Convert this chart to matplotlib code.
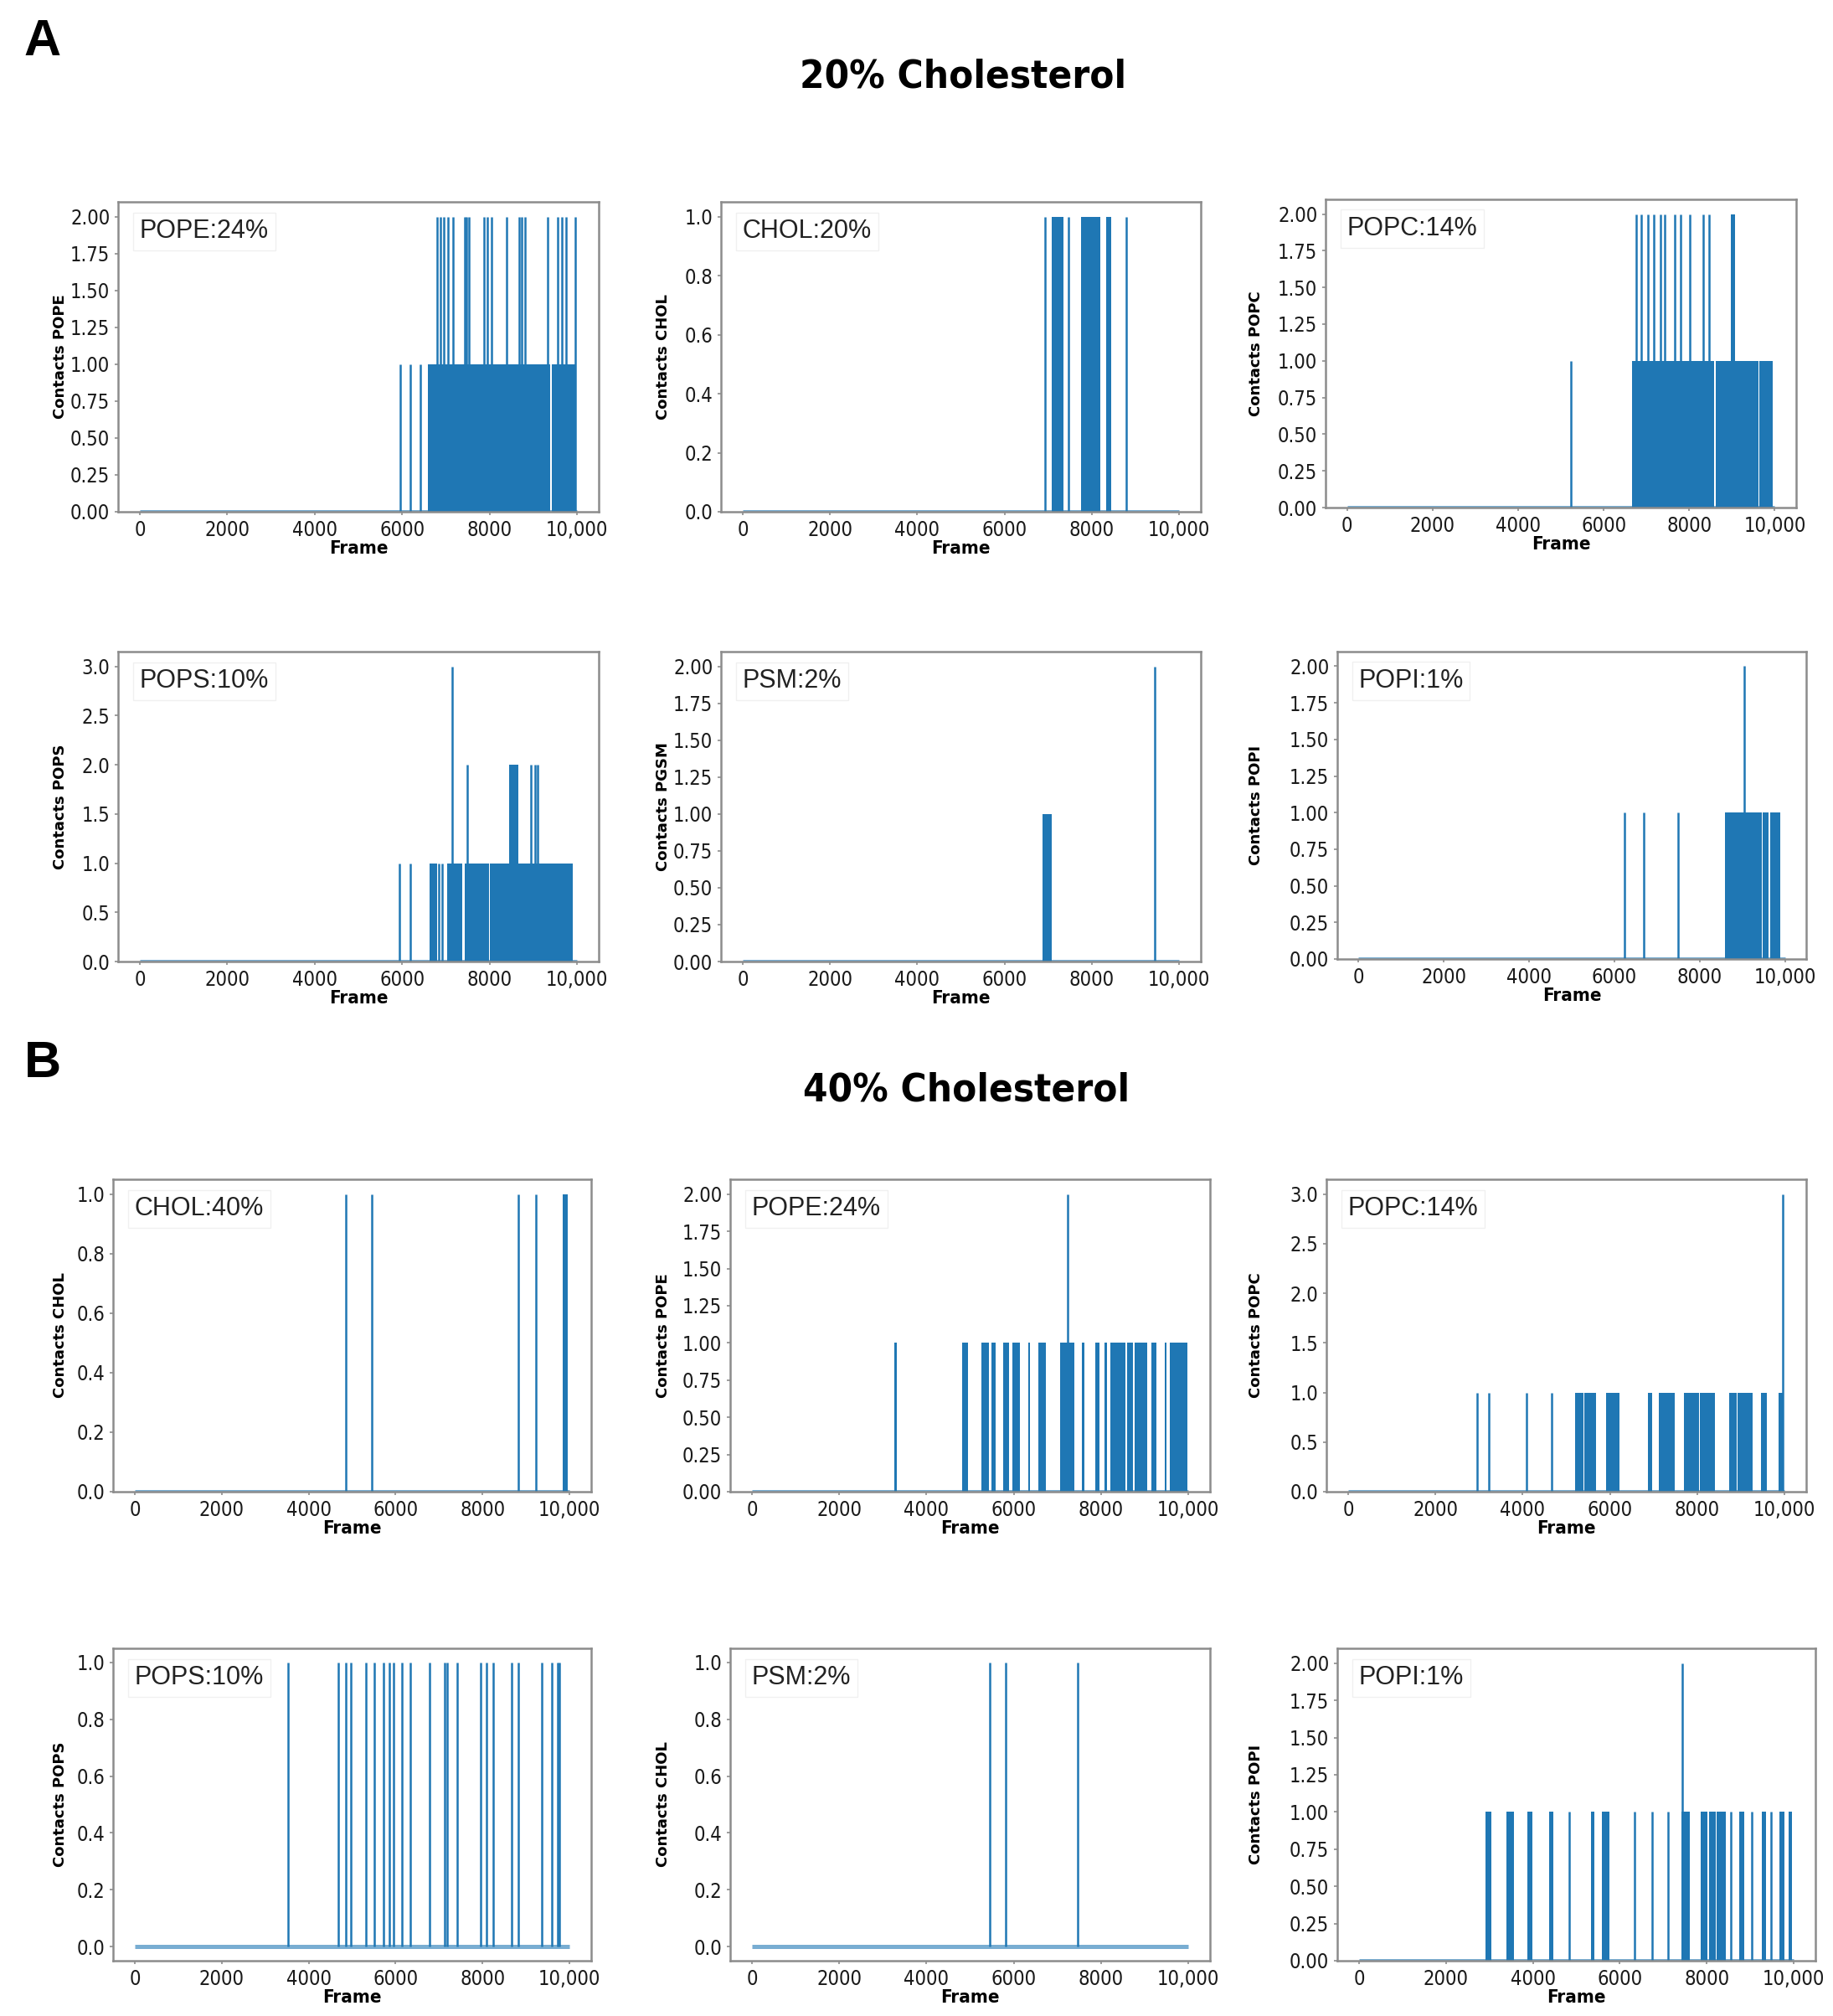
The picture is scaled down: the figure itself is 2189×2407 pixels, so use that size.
import matplotlib
matplotlib.use("Agg")
import matplotlib.pyplot as plt
import matplotlib.transforms as mtransforms
from matplotlib.ticker import MaxNLocator
from matplotlib import font_manager

# Figure size in pixels (dpi 100)
W, H = 2189, 2407

BLUE = "#1f77b4"
SPINE = "#8c8c8c"

FRAME_TICKS = [0, 2000, 4000, 6000, 8000, 10000]
FRAME_TICK_LABELS = ["0", "2000", "4000", "6000", "8000", "10,000"]

# ---- Data: 20% cholesterol -------------------------------------------------
# spikes: (frame, contacts); blocks: (start frame, end frame, contacts)
A_POPE_SPIKES = [(5950, 1), (6180, 1), (6410, 1),
                 (6800, 2), (6870, 2), (6960, 2), (7055, 2), (7165, 2),
                 (7430, 2), (7475, 2), (7525, 2), (7865, 2), (7945, 2),
                 (8050, 2), (8385, 2), (8685, 2), (8735, 2), (8815, 2),
                 (9340, 2), (9555, 2), (9650, 2), (9745, 2), (9960, 2)]
A_POPE_BLOCKS = [(6590, 9395, 1), (9425, 9980, 1)]

A_CHOL_SPIKES = [(6930, 1), (7470, 1), (8785, 1)]
A_CHOL_BLOCKS = [(7090, 7355, 1), (7750, 8200, 1), (8325, 8440, 1)]

A_POPC_SPIKES = [(5235, 1), (6765, 2), (6870, 2), (7045, 2), (7165, 2),
                 (7335, 2), (7430, 2), (7670, 2), (7790, 2), (8015, 2),
                 (8335, 2), (8470, 2)]
A_POPC_BLOCKS = [(6660, 8590, 1), (8615, 9615, 1), (9640, 9960, 1),
                 (8975, 9080, 2)]

A_POPS_SPIKES = [(5935, 1), (6190, 1), (6845, 1), (6925, 1),
                 (7150, 3), (7490, 2), (8955, 2), (9045, 2), (9095, 2)]
A_POPS_BLOCKS = [(6620, 6795, 1), (7025, 7380, 1), (7425, 7980, 1),
                 (8000, 9900, 1), (8440, 8660, 2)]

A_PSM_SPIKES = [(9450, 2)]
A_PSM_BLOCKS = [(6880, 7085, 1)]

A_POPI_SPIKES = [(6245, 1), (6685, 1), (7490, 1), (9045, 2)]
A_POPI_BLOCKS = [(8590, 9450, 1), (9480, 9620, 1), (9660, 9890, 1)]

# ---- Data: 40% cholesterol -------------------------------------------------
B_CHOL_SPIKES = [(4865, 1), (5460, 1), (8820, 1), (9230, 1)]
B_CHOL_BLOCKS = [(9850, 9970, 1)]

B_POPE_SPIKES = [(7240, 2)]
B_POPE_BLOCKS = [(3265, 3315, 1), (4815, 4945, 1), (5260, 5440, 1),
                 (5480, 5595, 1), (5760, 5900, 1), (5970, 6145, 1),
                 (6325, 6375, 1), (6570, 6730, 1), (7055, 7385, 1),
                 (7565, 7615, 1), (7870, 7965, 1), (8075, 8130, 1),
                 (8220, 8560, 1), (8600, 8730, 1), (8780, 9060, 1),
                 (9160, 9280, 1), (9455, 9510, 1), (9580, 9980, 1)]

B_POPC_SPIKES = [(2960, 1), (3225, 1), (4095, 1), (4665, 1), (9965, 3)]
B_POPC_BLOCKS = [(5200, 5400, 1), (5420, 5690, 1), (5920, 6210, 1),
                 (6880, 6975, 1), (7120, 7485, 1), (7695, 8040, 1),
                 (8070, 8410, 1), (8725, 8900, 1), (8930, 9270, 1),
                 (9460, 9605, 1), (9860, 9990, 1)]

B_POPS_SPIKES = [(3530, 1), (4690, 1), (4850, 1), (4975, 1), (5325, 1),
                 (5510, 1), (5715, 1), (5850, 1), (5945, 1), (6145, 1),
                 (6335, 1), (6780, 1), (7130, 1), (7185, 1), (7425, 1),
                 (7965, 1), (8100, 1), (8250, 1), (8665, 1), (8825, 1),
                 (9355, 1), (9595, 1), (9730, 1), (9770, 1)]
B_POPS_BLOCKS = []

B_PSM_SPIKES = [(5455, 1), (5825, 1), (7475, 1)]
B_PSM_BLOCKS = []

B_POPI_SPIKES = [(4840, 1), (6345, 1), (6750, 1), (7105, 1), (8560, 1),
                 (9045, 1), (9480, 1), (7445, 2)]
B_POPI_BLOCKS = [(2915, 3040, 1), (3400, 3560, 1), (3865, 3980, 1),
                 (4370, 4465, 1), (5340, 5405, 1), (5585, 5760, 1),
                 (7410, 7605, 1), (7865, 8020, 1), (8050, 8200, 1),
                 (8230, 8430, 1), (8755, 8865, 1), (9270, 9355, 1),
                 (9675, 9790, 1), (9885, 9970, 1)]

# ---- Panel layout (figure pixels): left, top, right, bottom ----------------
PANELS = [
    ("POPE:24%", "Contacts POPE", A_POPE_SPIKES, A_POPE_BLOCKS, (141, 241, 715, 611)),
    ("CHOL:20%", "Contacts CHOL", A_CHOL_SPIKES, A_CHOL_BLOCKS, (861, 241, 1434, 611)),
    ("POPC:14%", "Contacts POPC", A_POPC_SPIKES, A_POPC_BLOCKS, (1583, 238, 2145, 606)),
    ("POPS:10%", "Contacts POPS", A_POPS_SPIKES, A_POPS_BLOCKS, (141, 778, 715, 1148)),
    ("PSM:2%", "Contacts PGSM", A_PSM_SPIKES, A_PSM_BLOCKS, (861, 778, 1434, 1148)),
    ("POPI:1%", "Contacts POPI", A_POPI_SPIKES, A_POPI_BLOCKS, (1597, 778, 2157, 1145)),
    ("CHOL:40%", "Contacts CHOL", B_CHOL_SPIKES, B_CHOL_BLOCKS, (135, 1408, 706, 1781)),
    ("POPE:24%", "Contacts POPE", B_POPE_SPIKES, B_POPE_BLOCKS, (872, 1408, 1445, 1781)),
    ("POPC:14%", "Contacts POPC", B_POPC_SPIKES, B_POPC_BLOCKS, (1584, 1408, 2157, 1781)),
    ("POPS:10%", "Contacts POPS", B_POPS_SPIKES, B_POPS_BLOCKS, (135, 1968, 706, 2341)),
    ("PSM:2%", "Contacts CHOL", B_PSM_SPIKES, B_PSM_BLOCKS, (872, 1968, 1445, 2341)),
    ("POPI:1%", "Contacts POPI", B_POPI_SPIKES, B_POPI_BLOCKS, (1597, 1968, 2168, 2341)),
]


def narrow_font(weight="normal", size=15):
    """Condensed face if the system has one, else plain DejaVu Sans."""
    fp = font_manager.FontProperties(family="DejaVu Sans", stretch="condensed",
                                     weight=weight, size=size)
    path = font_manager.findfont(fp)
    if "Condensed" in path:
        return font_manager.FontProperties(fname=path, size=size)
    return font_manager.FontProperties(family="DejaVu Sans", weight=weight, size=size)


def ylabel_x(left):
    # y label sits at a fixed distance from each column's frame
    if left < 400:
        return 72
    if left < 1200:
        return 792
    return 1500


def draw_panel(fig, label, ylabel, spikes, blocks, box):
    left, top, right, bottom = box
    ax = fig.add_axes([left / W, 1 - bottom / H, (right - left) / W, (bottom - top) / H])

    # baseline of zero contacts
    ax.plot([0, 10000], [0, 0], color=BLUE, alpha=0.6, lw=3.6, solid_capstyle="butt")

    # dense stretches of contacts
    for start, end, val in blocks:
        ax.bar(start, val, width=end - start, align="edge", color=BLUE, linewidth=0)

    # isolated contact events
    if spikes:
        xs = [s[0] for s in spikes]
        ys = [s[1] for s in spikes]
        ax.vlines(xs, 0, ys, color=BLUE, lw=1.8)

    ax.margins(x=0.05, y=0.05)
    ax.set_xticks(FRAME_TICKS)
    ax.set_xticklabels(FRAME_TICK_LABELS)
    ax.yaxis.set_major_locator(MaxNLocator(nbins=9, steps=[1, 2, 2.5, 5, 10]))

    for sp in ax.spines.values():
        sp.set_color(SPINE)
        sp.set_linewidth(1.8)
    ax.tick_params(axis="both", direction="out", length=3, width=1.2,
                   color=SPINE, labelcolor="#1a1a1a", pad=4)
    tick_fp = narrow_font(size=17)
    for t in ax.get_xticklabels() + ax.get_yticklabels():
        t.set_fontproperties(tick_fp)

    ax.set_xlabel("Frame", fontproperties=narrow_font("bold", 16))
    ax.xaxis.label.set_va("center")
    ax.xaxis.set_label_coords(
        0.5, 1 - (bottom + 44) / H,
        transform=mtransforms.blended_transform_factory(ax.transAxes, fig.transFigure))

    ax.set_ylabel(ylabel, family="DejaVu Sans", fontweight="bold", fontsize=13)
    ax.yaxis.label.set_va("center")
    ax.yaxis.set_label_coords(
        ylabel_x(left) / W, 0.5,
        transform=mtransforms.blended_transform_factory(fig.transFigure, ax.transAxes))

    ax.text(0.045, 0.905, label, transform=ax.transAxes, family=["Liberation Sans", "DejaVu Sans"],
            fontsize=22, color="#222222", ha="left", va="center",
            bbox=dict(boxstyle="square,pad=0.25", facecolor="white",
                      edgecolor="#f0f0f0", linewidth=1.0))
    return ax


def main():
    fig = plt.figure(figsize=(W / 100, H / 100), dpi=100)

    for label, ylabel, spikes, blocks, box in PANELS:
        draw_panel(fig, label, ylabel, spikes, blocks, box)

    fig.text(51 / W, 1 - 51 / H, "A", family=["Liberation Sans", "DejaVu Sans"],
             fontweight="bold", fontsize=44, ha="center", va="center")
    fig.text(51 / W, 1 - 1271 / H, "B", family=["Liberation Sans", "DejaVu Sans"],
             fontweight="bold", fontsize=44, ha="center", va="center")
    fig.text(1150 / W, 1 - 92 / H, "20% Cholesterol", fontproperties=narrow_font("bold", 34),
             ha="center", va="center")
    fig.text(1154 / W, 1 - 1302 / H, "40% Cholesterol", fontproperties=narrow_font("bold", 34),
             ha="center", va="center")

    fig.savefig("out.png", dpi=100, facecolor="white")


if __name__ == "__main__":
    main()
